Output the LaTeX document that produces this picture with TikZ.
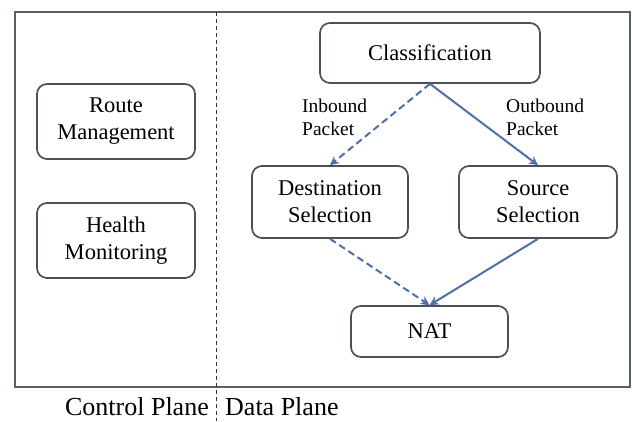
\documentclass[tikz,border=0pt]{standalone}
\usepackage{fontspec}
\setmainfont{Liberation Serif}
\usetikzlibrary{arrows.meta}
\definecolor{framecol}{HTML}{56616C}
\definecolor{boxcol}{HTML}{4A5057}
\definecolor{arrcol}{HTML}{4F6FA8}
\tikzset{
  x=1pt, y=-1pt,
  blk/.style={draw=boxcol, line width=1.7pt, rounded corners=10pt, fill=white,
    align=center, inner sep=0pt, font=\fontsize{22.5}{27}\selectfont},
  lbl/.style={align=left, inner sep=0pt, anchor=west, font=\fontsize{19.5}{23}\selectfont},
  conn/.style={draw=arrcol, line width=2pt, -{Stealth[length=9pt,width=9pt,inset=3pt]}},
  dconn/.style={conn, dash pattern=on 7pt off 4pt}
}
\begin{document}
\begin{tikzpicture}
\useasboundingbox (0,0) rectangle (632,421);
\fill[white] (0,0) rectangle (632,421);
\draw[framecol, line width=2.2pt] (15,12) rectangle (630,387);
\coordinate (divtop) at (216,12);
\coordinate (divbot) at (216,421);
\draw[black!80, line width=0.8pt, dash pattern=on 4pt off 3pt] (divtop) -- (divbot);

\node[blk, minimum width=158, minimum height=75] (route) at (116,121.5) {Route\\Management};
\node[blk, minimum width=158, minimum height=75] (health) at (116,240.5) {Health\\Monitoring};
\node[blk, minimum width=220, minimum height=60] (cls) at (430,53) {Classification};
\node[blk, minimum width=156, minimum height=72] (dst) at (330,202) {Destination\\Selection};
\node[blk, minimum width=158, minimum height=72] (src) at (538,202) {Source\\Selection};
\node[blk, minimum width=157, minimum height=51] (nat) at (429.5,331.5) {NAT};

\node[lbl] (inb) at (302,117) {Inbound\\Packet};
\node[lbl] (outb) at (506,117) {Outbound\\Packet};

\draw[dconn] (cls.south) -- (dst.north);
\draw[conn] (cls.south) -- (src.north);
\draw[dconn] (dst.south) -- (nat.north);
\draw[conn] (src.south) -- (nat.north);

\node[anchor=base east, inner sep=0pt, font=\fontsize{26}{30}\selectfont] (cp) at (209,415) {Control Plane};
\node[anchor=base west, inner sep=0pt, font=\fontsize{26}{30}\selectfont] (dp) at (225,415) {Data Plane};
\end{tikzpicture}
\end{document}
